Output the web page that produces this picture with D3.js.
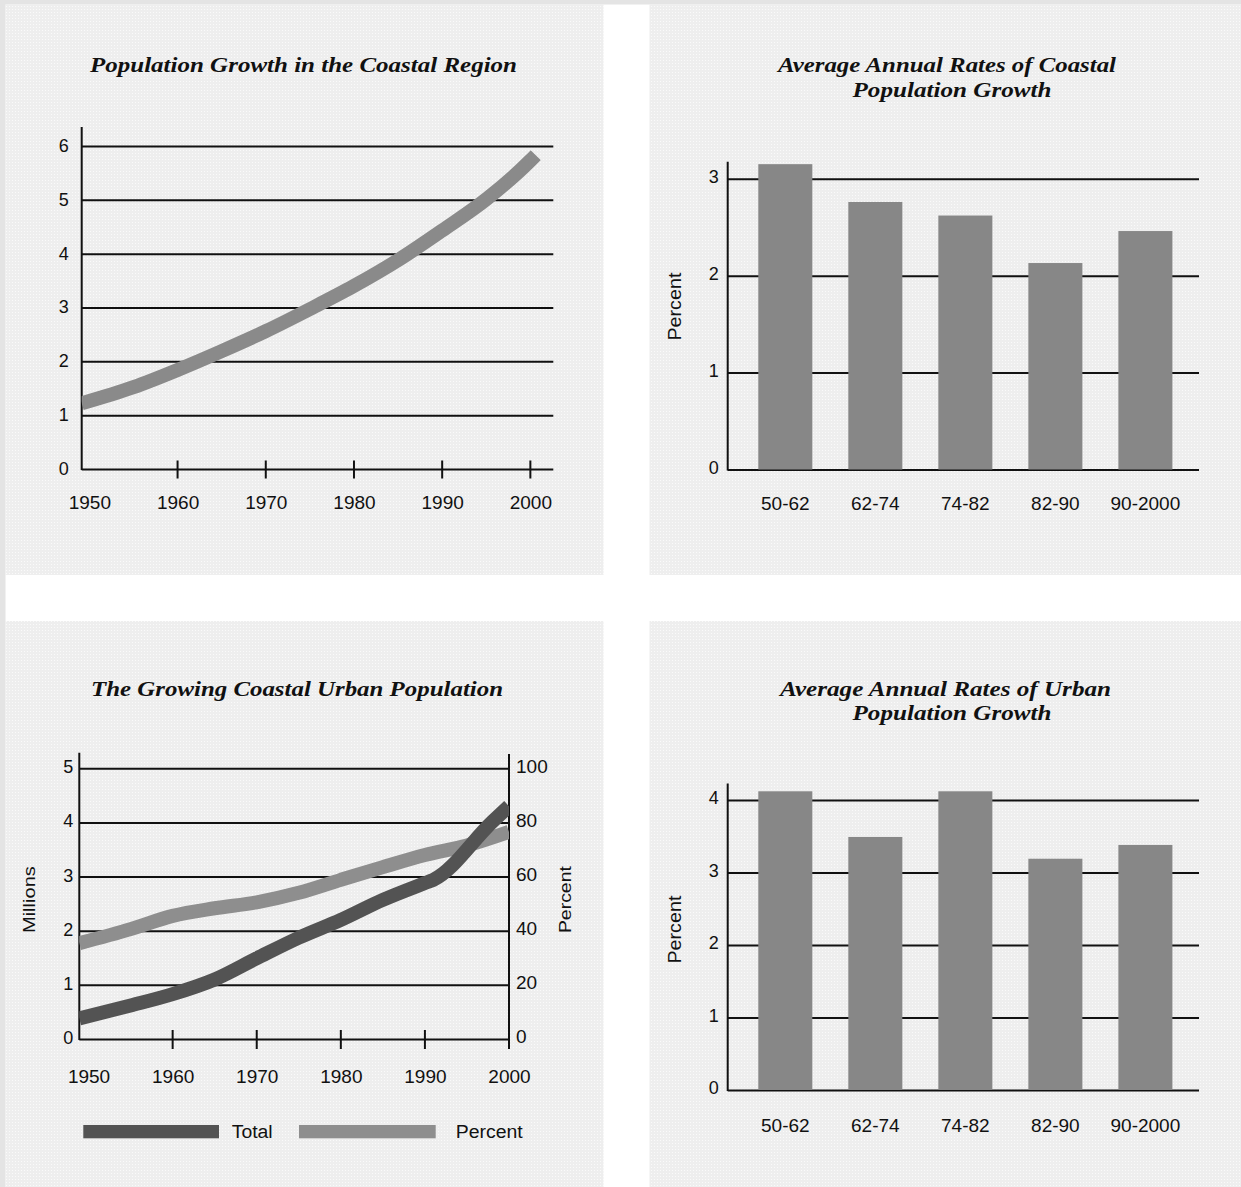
<!DOCTYPE html>
<html><head><meta charset="utf-8">
<script src="https://cdn.jsdelivr.net/npm/d3@7"></script>
<style>body{margin:0;background:#fff}svg{display:block}</style>
</head><body>
<svg id="c" width="1241" height="1187"></svg>
<script>
// ---------- data ----------
const coastalYears  = [1949.13, 1955, 1960, 1965, 1970, 1975, 1980, 1985, 1990, 1995, 2000, 2000.6];
const coastalPop    = [1.22, 1.52, 1.84, 2.19, 2.56, 2.97, 3.4, 3.88, 4.43, 5.01, 5.73, 5.83];
const yearTicks     = [1950, 1960, 1970, 1980, 1990, 2000];
const popTicks      = [0, 1, 2, 3, 4, 5, 6];

const periods       = ["50-62", "62-74", "74-82", "82-90", "90-2000"];
const coastalRates  = [3.15, 2.76, 2.62, 2.13, 2.46];
const urbanRates    = [4.12, 3.49, 4.12, 3.19, 3.38];
const coastalRateTicks = [0, 1, 2, 3];
const urbanRateTicks   = [0, 1, 2, 3, 4];

const urbanYears    = [1948.9, 1955, 1960, 1965, 1970, 1975, 1980, 1985, 1990, 1991, 1998, 2000];
const urbanTotal    = [0.38, 0.62, 0.83, 1.1, 1.49, 1.87, 2.2, 2.57, 2.88, 2.94, 4.01, 4.3];
const percentYears  = [1948.9, 1955, 1960, 1965, 1970, 1975, 1980, 1985, 1990, 1995, 2000];
const urbanPercent  = [35.4, 40.6, 45.5, 48.3, 50.5, 54, 58.8, 63.5, 68, 71.5, 76.5];
const millionTicks  = [0, 1, 2, 3, 4, 5];
const percentTicks  = [0, 20, 40, 60, 80, 100];
const legendLabels  = ["Total", "Percent"];

// ---------- styles ----------
const INK = "#111";
const SANS = "'Liberation Sans', Arial, sans-serif";
const SERIF = "'Liberation Serif', 'Times New Roman', serif";
const svg = d3.select("#c");

const defs = svg.append("defs");
const pat = defs.append("pattern").attr("id","dots").attr("width",3).attr("height",3)
  .attr("patternUnits","userSpaceOnUse");
pat.append("rect").attr("width",3).attr("height",3).attr("fill","#eeeeee");
pat.append("rect").attr("width",1).attr("height",1).attr("fill","#fafafa");

// page frame
svg.append("rect").attr("x",0).attr("y",0).attr("width",1241).attr("height",1187).attr("fill","#fff");
svg.append("rect").attr("x",0).attr("y",0).attr("width",5.5).attr("height",1187).attr("fill","#e4e4e4");
svg.append("rect").attr("x",0).attr("y",0).attr("width",1241).attr("height",4.5).attr("fill","#e4e4e4");
[[5.5,4.5,598,570.5],[649.5,4.5,591.5,570.5],[5.5,621,598,566],[649.5,621,591.5,566]].forEach(p=>{
  svg.append("rect").attr("x",p[0]).attr("y",p[1]).attr("width",p[2]).attr("height",p[3]).attr("fill","url(#dots)");
});

function title(lines, cx, y0, widths, size) {
  lines.forEach((t,i)=>{
    svg.append("text").attr("x",cx[i]).attr("y",y0 + i*24.5)
      .attr("text-anchor","middle").attr("font-family",SERIF).attr("font-weight","bold")
      .attr("font-style","italic").attr("font-size",size).attr("fill",INK)
      .attr("textLength",widths[i]).attr("lengthAdjust","spacingAndGlyphs").text(t);
  });
}
function vlabel(t, x, y, len, size) {
  svg.append("text").attr("transform",`translate(${x},${y}) rotate(-90)`)
    .attr("text-anchor","middle").attr("dominant-baseline","central")
    .attr("font-family",SANS).attr("font-size",size).attr("fill",INK)
    .attr("textLength",len).attr("lengthAdjust","spacingAndGlyphs").text(t);
}
function styleAxis(g, size) {
  g.select(".domain").remove();
  g.selectAll(".tick line").attr("stroke",INK).attr("stroke-width",2);
  g.selectAll(".tick text").attr("font-family",SANS).attr("font-size",size).attr("fill",INK);
}
function vline(x, y1, y2) {
  svg.append("line").attr("x1",x).attr("x2",x).attr("y1",y1).attr("y2",y2)
    .attr("stroke",INK).attr("stroke-width",2);
}

// =============== Chart 1: Population growth (top-left) ===============
{
  const x = d3.scaleLinear().domain([1949.13, 2002.6]).range([81.7, 553.3]);
  const y = d3.scaleLinear().domain([0, 6]).range([469, 146]);
  title(["Population Growth in the Coastal Region"], [303.5], 72, [427], 21);

  const gy = svg.append("g").attr("transform","translate(81.7,0)")
    .call(d3.axisLeft(y).tickValues(popTicks).tickSize(-471.6).tickPadding(13).tickFormat(d3.format("d")));
  styleAxis(gy, 18);
  gy.selectAll(".tick text").attr("dy","0.3em");

  const gx = svg.append("g").attr("transform","translate(0,469)")
    .call(d3.axisBottom(x).tickValues(yearTicks).tickSize(0).tickPadding(27).tickFormat(d3.format("d")));
  styleAxis(gx, 19);

  svg.selectAll(".t1tick").data(yearTicks.filter(d=>d>1950)).join("line").attr("class","t1tick")
    .attr("x1",d=>x(d)).attr("x2",d=>x(d)).attr("y1",460.5).attr("y2",478.5)
    .attr("stroke",INK).attr("stroke-width",2);
  vline(81.7, 127, 470);

  const cp = defs.append("clipPath").attr("id","clip1");
  cp.append("rect").attr("x",81.7).attr("y",100).attr("width",520).attr("height",400);
  const line = d3.line().x(d=>x(d[0])).y(d=>y(d[1])).curve(d3.curveMonotoneX);
  svg.append("path").datum(coastalYears.map((d,i)=>[d, coastalPop[i]]))
    .attr("clip-path","url(#clip1)")
    .attr("d", line).attr("fill","none").attr("stroke","#8a8a8a").attr("stroke-width",14);
}

// =============== Bar charts ===============
function barChart(values, ticks, yRange, axisTop, labelBase, t, titleW, pctY) {
  const x = d3.scaleBand().domain(periods).range([727.7, 1203]).paddingInner(0.4).paddingOuter(0.34);
  const y = d3.scaleLinear().domain([0, ticks[ticks.length-1]]).range(yRange);
  title(t.lines, t.cx, t.y, titleW, 21);

  const gy = svg.append("g").attr("transform","translate(727.7,0)")
    .call(d3.axisLeft(y).tickValues(ticks).tickSize(-471.3).tickPadding(9).tickFormat(d3.format("d")));
  styleAxis(gy, 18);
  gy.selectAll(".tick text").attr("dy","0.2em");
  vline(727.7, axisTop, yRange[0] + 1);

  svg.append("g").selectAll("rect").data(values).join("rect")
    .attr("x",(d,i)=>x(periods[i])).attr("width",x.bandwidth())
    .attr("y",d=>y(d)).attr("height",d=>y(0)-y(d)).attr("fill","#878787");

  const gx = svg.append("g").attr("transform",`translate(0,${yRange[0]})`)
    .call(d3.axisBottom(x).tickSize(0).tickPadding(labelBase - yRange[0] - 13.5));
  styleAxis(gx, 19);
  vlabel("Percent", 675.4, pctY, 68, 18);
}
barChart(coastalRates, coastalRateTicks, [469.5, 178.7], 161.8, 509.8,
  {lines:["Average Annual Rates of Coastal","Population Growth"], cx:[947, 952], y:72}, [338, 199], 306.6);
barChart(urbanRates, urbanRateTicks, [1090, 800], 783.5, 1131.8,
  {lines:["Average Annual Rates of Urban","Population Growth"], cx:[945.5, 952], y:695.5}, [331, 199], 929.6);

// =============== Chart 3: Growing coastal urban population ===============
{
  const x = d3.scaleLinear().domain([1948.9, 2000]).range([79.3, 509]);
  const y = d3.scaleLinear().domain([0, 5]).range([1039, 768.3]);
  const yp = d3.scaleLinear().domain([0, 100]).range([1039, 768.3]);
  title(["The Growing Coastal Urban Population"], [297], 695.5, [412], 21);

  const gy = svg.append("g").attr("transform","translate(79.3,0)")
    .call(d3.axisLeft(y).tickValues(millionTicks).tickSize(-429.7).tickPadding(6).tickFormat(d3.format("d")));
  styleAxis(gy, 18);
  gy.selectAll(".tick text").attr("dy","0.25em");

  const gr = svg.append("g").attr("transform","translate(509,0)")
    .call(d3.axisRight(yp).tickValues(percentTicks).tickSize(0).tickPadding(7).tickFormat(d3.format("d")));
  styleAxis(gr, 19);
  gr.selectAll(".tick text").attr("dy","0.2em");

  const gx = svg.append("g").attr("transform","translate(0,1039)")
    .call(d3.axisBottom(x).tickValues(yearTicks).tickSize(0).tickPadding(30.5).tickFormat(d3.format("d")));
  styleAxis(gx, 19);

  svg.selectAll(".t3tick").data(yearTicks.filter(d=>d>1950 && d<2000)).join("line").attr("class","t3tick")
    .attr("x1",d=>x(d)).attr("x2",d=>x(d)).attr("y1",1030).attr("y2",1049)
    .attr("stroke",INK).attr("stroke-width",2);
  vline(79.3, 752.7, 1040);
  vline(509, 754, 1049);

  const cp = defs.append("clipPath").attr("id","clip3");
  cp.append("rect").attr("x",79.3).attr("y",740).attr("width",429.7).attr("height",320);
  const lineP = d3.line().x(d=>x(d[0])).y(d=>yp(d[1])).curve(d3.curveMonotoneX);
  const lineT = d3.line().x(d=>x(d[0])).y(d=>y(d[1])).curve(d3.curveMonotoneX);
  svg.append("path").datum(percentYears.map((d,i)=>[d, urbanPercent[i]])).attr("clip-path","url(#clip3)")
    .attr("d", lineP).attr("fill","none").attr("stroke","#8e8e8e").attr("stroke-width",14);
  svg.append("path").datum(urbanYears.map((d,i)=>[d, urbanTotal[i]])).attr("clip-path","url(#clip3)")
    .attr("d", lineT).attr("fill","none").attr("stroke","#535353").attr("stroke-width",14);

  vlabel("Millions", 29.6, 899.6, 67, 17);
  vlabel("Percent", 565, 899.6, 67, 17);

  // legend
  const lg = [{x:83.3, w:135.7, c:"#535353", tx:231.7, tw:41}, {x:299, w:136.7, c:"#8e8e8e", tx:455.7, tw:67}];
  lg.forEach((l,i)=>{
    svg.append("rect").attr("x",l.x).attr("y",1125).attr("width",l.w).attr("height",13.3).attr("fill",l.c);
    svg.append("text").attr("x",l.tx).attr("y",1132).attr("dominant-baseline","central")
      .attr("font-family",SANS).attr("font-size",18).attr("fill",INK)
      .attr("textLength",l.tw).attr("lengthAdjust","spacingAndGlyphs").text(legendLabels[i]);
  });
}
</script>
</body></html>
